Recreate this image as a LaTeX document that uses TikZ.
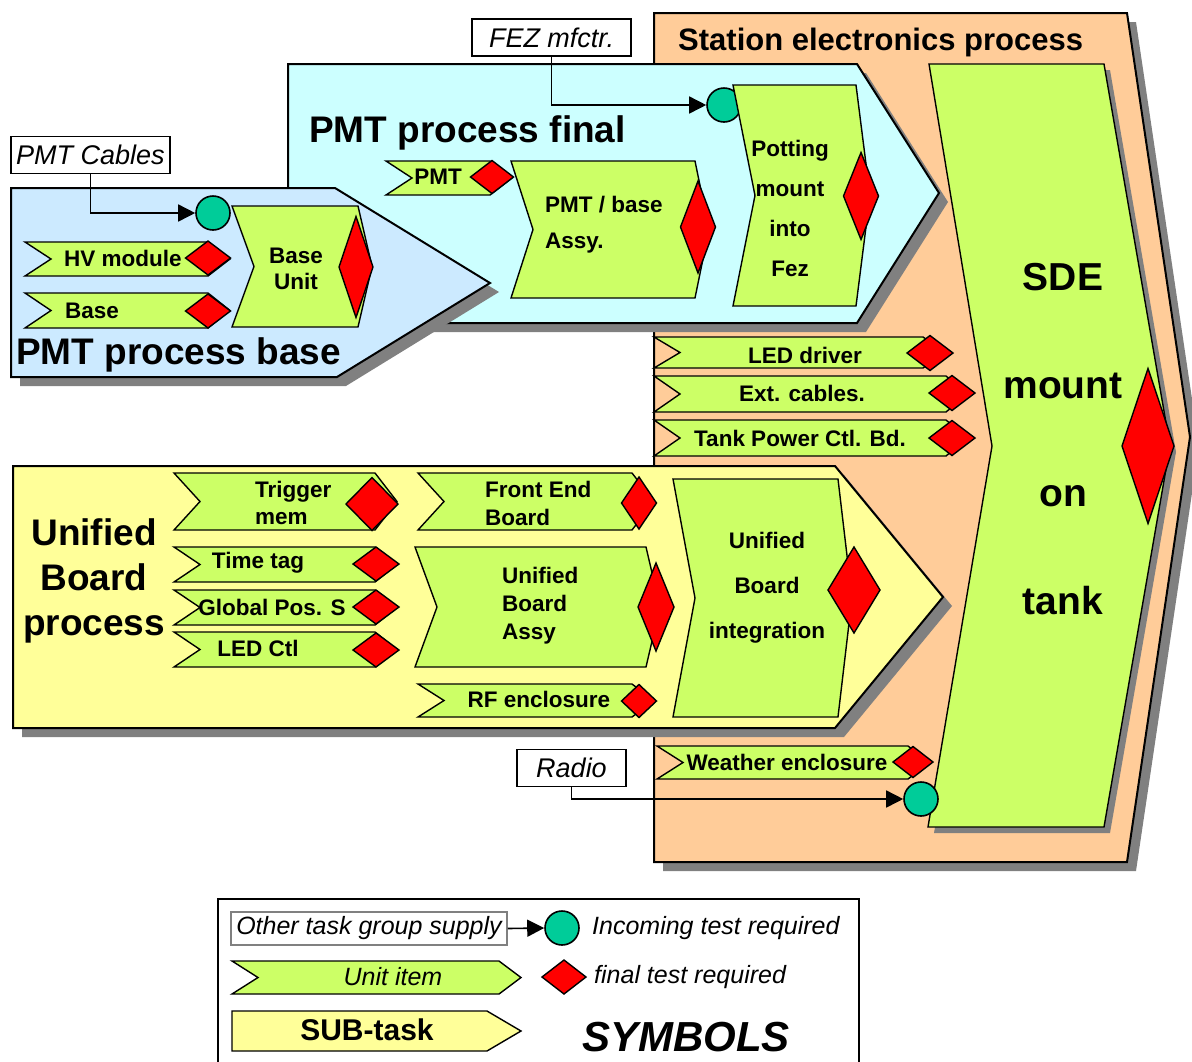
\documentclass[tikz,border=0pt]{standalone}
\usepackage{fontspec}
\setmainfont{Liberation Sans}
\usetikzlibrary{arrows.meta,shadows}

\begin{document}
\begin{tikzpicture}[x=1pt, y=-1pt,
    bigshape/.style={draw, line width=2pt},
    unit/.style={draw, fill=item-green, line width=1.4pt},
    final/.style={draw, fill=test-red, line width=1.4pt},
    inctest/.style={circle, draw, fill=test-teal, line width=1.6pt,
        minimum size=34pt, inner sep=0pt},
    supplybox/.style={draw, fill=white, line width=1.6pt, inner sep=0pt,
        minimum height=37pt, font=\itshape\fontsize{27}{30}\selectfont},
    supply/.style={line width=1.6pt, -{Triangle[length=17pt, width=17pt]}},
    itemtext/.style={inner sep=0pt, font=\bfseries\fontsize{22.5}{27}\selectfont},
    titletext/.style={inner sep=0pt, font=\bfseries\fontsize{37}{45}\selectfont},
    legendtext/.style={inner sep=0pt, font=\itshape\fontsize{25}{30}\selectfont},
    boxshadow/.style={drop shadow={shadow xshift=9pt, shadow yshift=-9pt,
        fill=shade-grey, opacity=1}}
]
    % Definitions
    \definecolor{station-orange}{RGB}{255, 204, 153}
    \definecolor{final-cyan}{RGB}{204, 255, 255}
    \definecolor{base-blue}{RGB}{204, 234, 255}
    \definecolor{board-yellow}{RGB}{255, 255, 153}
    \definecolor{item-green}{RGB}{204, 255, 102}
    \definecolor{test-red}{RGB}{255, 0, 0}
    \definecolor{test-teal}{RGB}{0, 204, 153}
    \definecolor{shade-grey}{RGB}{128, 128, 128}

    \newcommand{\unititem}[4]{
        \draw[unit] (#1,#2) -- (#3,#2) -- (#3+22,{(#2+#4)/2})
            -- (#3,#4) -- (#1,#4) -- (#1+26,{(#2+#4)/2}) -- cycle;
    }

    \newcommand{\taskbox}[4]{
        \draw[unit] (#1,#2) -- (#3,#2) -- (#3+14,{(#2+#4)/2})
            -- (#3,#4) -- (#1,#4) -- (#1+22,{(#2+#4)/2}) -- cycle;
    }

    \newcommand{\testmark}[3]{
        \begin{scope}[shift={(#1)}]
            \draw[final] (-#2/2,0) -- (0,-#3/2) -- (#2/2,0)
                -- (0,#3/2) -- cycle;
        \end{scope}
    }

    \useasboundingbox (0,0) rectangle (1192,1061);

    % Station electronics process
    \draw[bigshape, fill=station-orange, boxshadow] (654,13) -- (1127,13)
        -- (1190,437) -- (1127,862) -- (654,862) -- cycle;
    \node[inner sep=0pt, anchor=west,
          font=\bfseries\fontsize{31}{36}\selectfont
    ] (stationtitle) at (678,42) {Station electronics process};

    \draw[draw, fill=item-green, line width=1.4pt,
          drop shadow={shadow xshift=6pt, shadow yshift=-6pt,
              fill=shade-grey, opacity=1}
    ] (929,64) -- (1104,64) -- (1170,446) -- (1104,827) -- (928,827)
        -- (992,446) -- cycle;
    \node[inner sep=0pt, align=center,
          font=\bfseries\fontsize{39}{108}\selectfont
    ] (sde) at (1063,439) {SDE\\mount\\on\\tank};
    \testmark{1148,446}{52}{155}

    \unititem{654}{337}{923}{368}
    \testmark{930,353}{46}{35}
    \node[itemtext] (leddriver) at (805,355) {LED driver};
    \unititem{654}{376}{946}{412}
    \testmark{952,393}{46}{35}
    \node[itemtext] (extcables) at (802,393) {Ext. cables.};
    \unititem{654}{420}{946}{456}
    \testmark{952,438}{46}{35}
    \node[itemtext] (tankpower) at (800,438) {Tank Power Ctl. Bd.};
    \unititem{657}{746}{908}{779}
    \testmark{913,762}{40}{31}
    \node[itemtext] (weather) at (787,762) {Weather enclosure};

    \node[supplybox, minimum width=109pt] (radio) at (571.5,768) {Radio};
    \node[inctest] (radioin) at (921,799) {};
    \draw[supply] (radio.south) |- (radioin.west);

    % PMT process final
    \draw[bigshape, fill=final-cyan, boxshadow] (288,64) -- (857,64)
        -- (939,193) -- (857,323) -- (288,323) -- cycle;
    \node[titletext, anchor=west] (pmtfinal) at (309,133) {PMT process final};

    \node[supplybox, minimum width=159pt] (fez) at (551.5,37.5) {FEZ mfctr.};
    \node[inctest] (fezin) at (724,105) {};
    \draw[supply] (fez.south) |- (fezin.west);

    \taskbox{733}{85}{856}{306}
    \testmark{861,196}{35}{87}
    \node[itemtext, align=center,
          font=\bfseries\fontsize{22.5}{40}\selectfont
    ] (potting) at (790,208) {Potting\\mount\\into\\Fez};

    \taskbox{511}{161}{695}{298}
    \testmark{698,227}{35}{92}
    \node[itemtext, align=left, anchor=west,
          font=\bfseries\fontsize{22.5}{36}\selectfont
    ] (pmtassy) at (545,225) {PMT / base\\Assy.};

    \unititem{386}{161}{490}{195}
    \testmark{492,177}{43}{33}
    \node[itemtext] (pmt) at (438,177) {PMT};

    % PMT process base
    \draw[bigshape, fill=base-blue, boxshadow] (11,188) -- (335,188)
        -- (490,283) -- (337,377) -- (11,377) -- cycle;
    \node[titletext, anchor=west] (pmtbase) at (16,355) {PMT process base};

    \node[supplybox, minimum width=159pt] (cables) at (90.5,155) {PMT Cables};
    \node[inctest] (cablesin) at (213,213) {};
    \draw[supply] (cables.south) |- (cablesin.west);

    \taskbox{232}{206}{358}{327}
    \testmark{356,267}{34}{101}
    \node[itemtext, align=center,
          font=\bfseries\fontsize{22.5}{26}\selectfont
    ] (baseunit) at (296,269) {Base\\Unit};

    \unititem{25}{242}{208}{276}
    \testmark{208,258}{45}{34}
    \node[itemtext] (hvmodule) at (123,258) {HV module};
    \unititem{25}{293}{208}{328}
    \testmark{208,311}{45}{34}
    \node[itemtext, anchor=west] (baseitem) at (65,311) {Base};

    % Unified Board process
    \draw[bigshape, fill=board-yellow, boxshadow] (13,466) -- (835,466)
        -- (943,597) -- (835,728) -- (13,728) -- cycle;
    \node[titletext, align=center] (unified) at (94,581)
        {Unified\\Board\\process};

    \unititem{174}{473}{375}{530}
    \testmark{372,504}{52}{53}
    \node[itemtext, align=left, anchor=west] (trigger) at (255,503)
        {Trigger\\mem};
    \unititem{174}{547}{375}{582}
    \testmark{376,564}{46}{34}
    \node[itemtext] (timetag) at (258,563) {Time tag};
    \unititem{174}{590}{375}{625}
    \testmark{376,607}{46}{34}
    \node[itemtext] (globalpos) at (272,607) {Global Pos. S};
    \unititem{174}{632}{375}{667}
    \testmark{376,650}{46}{34}
    \node[itemtext] (ledctl) at (258,648) {LED Ctl};

    \unititem{418}{473}{632}{530}
    \testmark{639,503}{35}{52}
    \node[itemtext, align=left, anchor=west,
          font=\bfseries\fontsize{22.5}{28}\selectfont
    ] (frontend) at (485,503) {Front End\\Board};
    \taskbox{415}{547}{646}{667}
    \testmark{656,607}{36}{88}
    \node[itemtext, align=left, anchor=west,
          font=\bfseries\fontsize{22.5}{28}\selectfont
    ] (boardassy) at (502,606) {Unified\\Board\\Assy};
    \unititem{418}{684}{632}{717}
    \testmark{639,701}{35}{33}
    \node[itemtext] (rfencl) at (539,699) {RF enclosure};

    \taskbox{673}{479}{838}{717}
    \testmark{854,590}{52}{86}
    \node[itemtext, align=center,
          font=\bfseries\fontsize{22.5}{45}\selectfont
    ] (integration) at (767,588) {Unified\\Board\\integration};

    % Symbols
    \draw[line width=2pt] (218,899) rectangle (859,1080);
    \node[draw=shade-grey, line width=1.5pt, inner sep=0pt,
          minimum width=276pt, minimum height=33pt,
          font=\itshape\fontsize{25}{30}\selectfont
    ] (othersupply) at (369,928.5) {Other task group supply};
    \node[inctest] (legendin) at (562,928) {};
    \draw[supply] (othersupply.east) -- (legendin.west);
    \node[legendtext, anchor=west] (inctext) at (592,928)
        {Incoming test required};

    \unititem{232}{961}{499}{994}
    \node[legendtext] (unittext) at (393,977) {Unit item};
    \testmark{564,977}{44}{34}
    \node[legendtext, anchor=west] (finaltext) at (594,977)
        {final test required};

    \draw[fill=board-yellow, line width=1.4pt] (232,1011) -- (487,1011)
        -- (521,1031) -- (487,1051) -- (232,1051) -- cycle;
    \node[inner sep=0pt, font=\bfseries\fontsize{30}{34}\selectfont]
        (subtask) at (367,1030) {SUB-task};
    \node[inner sep=0pt, font=\bfseries\itshape\fontsize{42}{48}\selectfont]
        (symbols) at (686,1037) {SYMBOLS};
\end{tikzpicture}
\end{document}
